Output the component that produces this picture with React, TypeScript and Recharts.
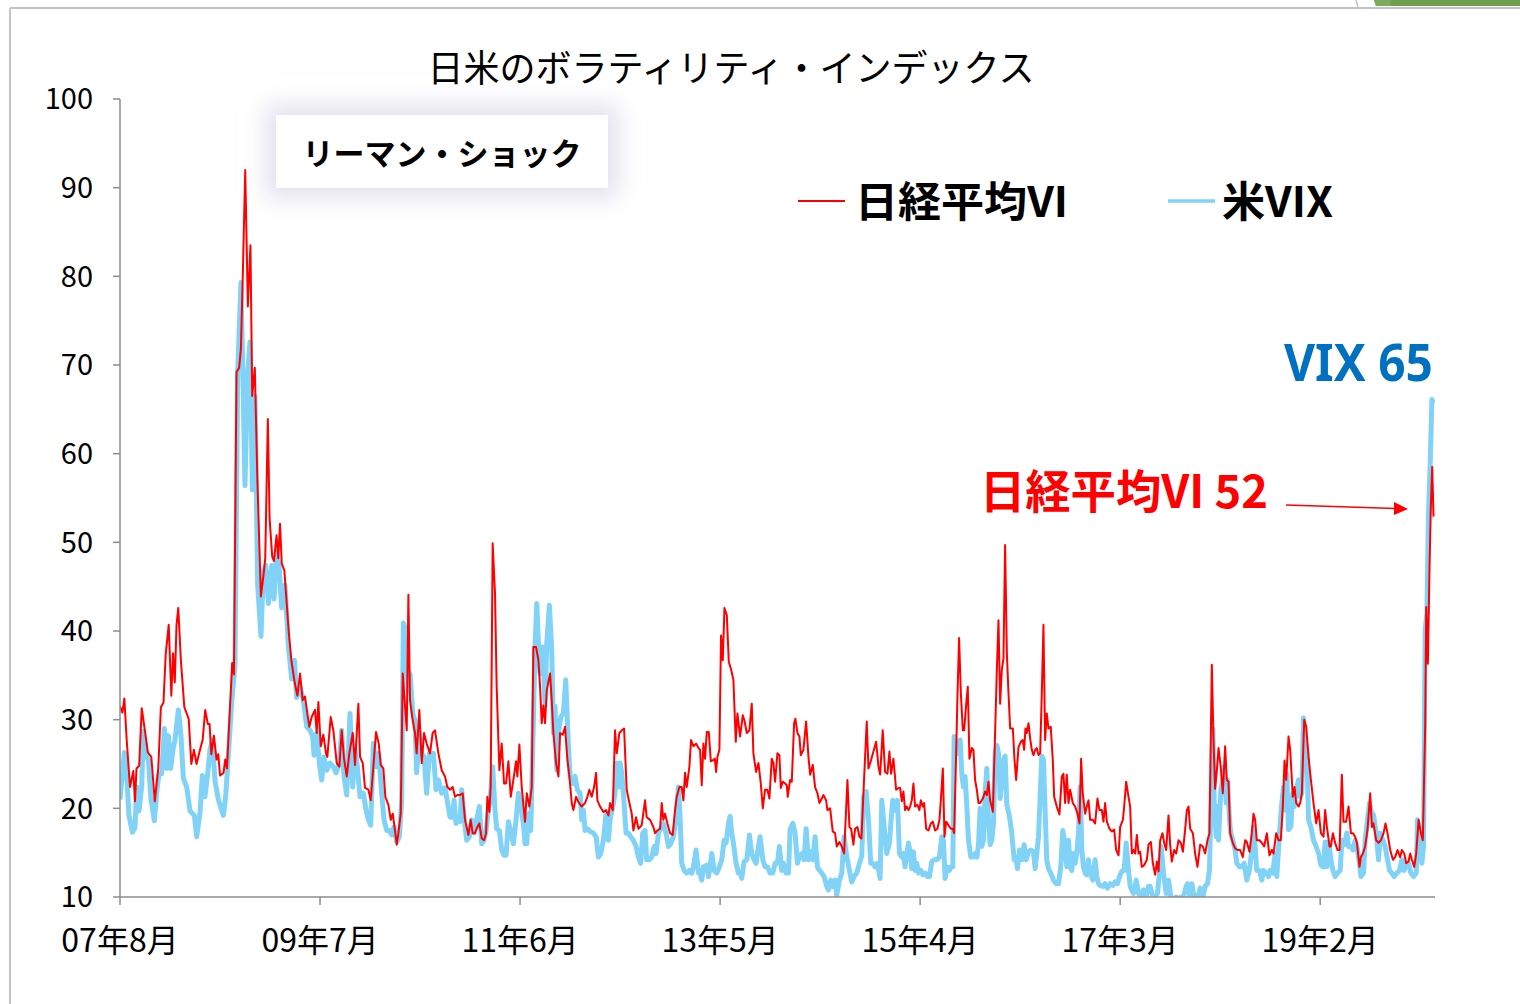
import { LineChart, Line, XAxis, YAxis } from "recharts";

const FONT = '"Noto Sans CJK JP", "Noto Sans", sans-serif';

const tickMonths = [0, 23, 46, 69, 92, 115, 138];
const tickLabels = ["07年8月", "09年7月", "11年6月", "13年5月", "15年4月", "17年3月", "19年2月"];
const yTicks = [10, 20, 30, 40, 50, 60, 70, 80, 90, 100];

// [months since 2007-08, index value]
const nikkeiVI: [number, number][] = [
  [0, 31.5], [0.27, 30.8], [0.5, 32.4], [0.77, 27.7], [1.15, 22.4], [1.53, 24.2], [1.72, 20.8], [1.9, 24.5], [2.2, 24.8], [2.5, 31.3],
  [2.9, 28.5], [3.2, 26.3], [3.6, 25.8], [4.0, 20.8], [4.4, 24.5], [4.7, 31.4], [5.0, 31.9], [5.25, 37.3], [5.6, 40.7], [5.9, 32.7],
  [6.1, 37.5], [6.3, 34.2], [6.5, 40.7], [6.7, 42.6], [7.0, 36.7], [7.4, 31.4], [7.9, 30.1], [8.2, 25.0], [8.5, 26.6], [8.8, 25.0],
  [9.2, 26.6], [9.5, 27.7], [9.8, 31.1], [10.1, 29.5], [10.3, 29.5], [10.5, 26.1], [10.8, 28.2], [11.1, 25.5], [11.3, 26.1], [11.5, 23.7],
  [11.9, 24.0], [12.1, 25.5], [12.3, 24.5], [12.5, 28.5], [12.9, 36.4], [13.1, 35.1], [13.4, 69.2], [13.7, 69.7], [13.9, 71.8], [14.1, 79.3],
  [14.4, 92.0], [14.7, 76.6], [15.0, 83.5], [15.2, 66.5], [15.5, 69.7], [15.8, 56.9], [16.2, 43.9], [16.5, 46.3], [16.7, 48.2], [17.0, 63.9],
  [17.2, 52.7], [17.5, 48.4], [17.7, 47.9], [18.0, 50.8], [18.2, 48.2], [18.4, 52.1], [18.6, 47.6], [18.9, 46.8], [19.4, 39.9], [19.7, 36.7],
  [20.1, 34.1], [20.4, 32.7],
  [20.7, 35.2], [21.0, 32.2], [21.27, 32.6], [21.54, 30.7], [21.77, 29.2], [22.04, 30.3], [22.42, 31.1], [22.62, 28.5], [22.81, 32.0], [23.08, 27.0],
  [23.38, 28.3], [23.69, 26.2], [23.84, 25.8], [24.23, 30.3], [24.53, 28.8], [24.92, 25.1], [25.22, 24.7], [25.49, 28.8], [25.76, 25.6], [26.07, 23.6],
  [26.37, 26.2], [26.76, 28.5], [27.02, 24.9], [27.41, 31.8], [27.6, 25.8], [27.91, 25.1], [28.17, 22.3], [28.56, 22.1], [28.83, 20.9], [29.13, 24.7],
  [29.44, 28.6], [29.75, 27.3], [29.98, 24.9], [30.28, 24.5], [30.51, 21.3], [30.86, 20.4], [31.13, 18.7], [31.36, 19.4], [31.62, 17.5], [31.82, 15.9],
  [32.01, 17.2], [32.28, 19.4], [32.51, 35.2], [32.77, 31.6], [32.97, 28.8], [33.16, 44.1], [33.35, 32.2], [33.66, 29.9], [33.92, 28.5], [34.11, 26.2],
  [34.42, 31.1], [34.69, 25.1], [34.96, 28.5], [35.26, 27.3], [35.65, 26.2], [35.95, 28.5], [36.22, 28.8], [36.61, 26.2], [36.99, 24.3], [37.37, 23.6],
  [37.64, 22.4], [37.95, 22.1], [38.25, 22.4], [38.52, 21.3], [38.79, 21.5], [39.1, 21.5], [39.4, 21.7], [39.67, 18.7], [40.06, 17.0], [40.32, 18.7],
  [40.55, 17.2], [40.82, 17.2], [41.09, 17.9], [41.32, 18.3], [41.59, 16.6], [41.86, 16.4], [42.09, 17.2], [42.24, 21.3], [42.47, 19.6], [42.62, 22.4],
  [42.85, 49.9], [43.12, 44.2], [43.31, 33.7], [43.62, 24.3],
  [43.89, 27.3], [44.16, 22.8], [44.39, 22.8], [44.66, 25.3], [44.93, 21.3], [45.23, 23.2], [45.54, 25.3], [45.69, 23.6], [45.92, 27.2], [46.19, 22.4],
  [46.57, 18.5], [46.77, 21.7], [47.07, 20.2], [47.34, 22.4], [47.53, 38.2], [47.84, 38.2], [48.11, 36.7], [48.3, 33.7], [48.49, 29.6], [48.68, 31.6],
  [48.87, 29.6], [49.07, 33.3], [49.45, 35.2], [49.64, 32.2], [49.83, 28.5], [50.14, 25.1], [50.41, 23.6], [50.6, 28.5], [50.91, 28.3], [51.17, 29.2],
  [51.44, 25.5], [51.67, 23.6], [51.94, 20.6], [52.13, 19.8], [52.44, 21.3], [52.71, 20.7], [53.09, 20.2], [53.47, 20.6], [53.74, 21.3], [53.97, 22.1],
  [54.24, 21.3], [54.51, 22.4], [54.74, 24.0], [54.89, 20.9], [55.2, 20.2], [55.58, 19.6], [55.89, 19.8], [56.16, 19.2], [56.35, 20.6], [56.66, 19.8],
  [56.92, 28.8], [57.12, 26.2], [57.42, 28.5], [57.69, 28.8], [57.96, 29.0], [58.26, 22.1], [58.57, 20.6], [58.84, 19.4], [59.03, 17.5], [59.34, 19.0],
  [59.61, 17.7], [59.99, 18.1], [60.37, 20.9], [60.56, 19.0], [60.95, 18.7], [61.33, 17.9], [61.52, 17.2], [61.79, 17.5], [62.1, 17.7], [62.29, 20.6],
  [62.48, 18.7], [62.67, 19.4], [62.94, 18.3], [63.25, 17.2], [63.55, 17.0], [63.82, 19.8], [64.01, 21.3], [64.32, 22.4], [64.59, 22.4], [64.78, 20.9],
  [64.97, 24.0], [65.16, 22.4], [65.47, 24.7], [65.66, 27.7], [65.93, 27.0], [66.24, 27.3], [66.51, 26.8],
  [66.7, 26.6], [66.89, 22.6], [67.08, 27.3], [67.27, 25.6], [67.47, 28.6], [67.7, 28.6], [67.93, 25.3], [68.16, 25.4], [68.39, 25.6], [68.54, 24.1],
  [68.69, 25.8], [68.92, 26.6], [69.11, 39.5], [69.31, 36.7], [69.5, 42.6], [69.77, 41.8], [70.0, 36.5], [70.23, 35.8], [70.53, 34.5], [70.8, 27.5],
  [70.99, 30.7], [71.3, 28.1], [71.61, 30.5], [71.8, 29.9], [72.07, 28.5], [72.37, 28.8], [72.64, 31.8], [72.83, 26.2], [73.14, 24.1], [73.41, 25.1],
  [73.68, 22.8], [73.91, 20.0], [74.17, 22.1], [74.44, 22.1], [74.67, 21.1], [74.94, 25.6], [75.13, 25.1], [75.32, 23.0], [75.59, 26.2], [75.82, 26.0],
  [75.98, 22.3], [76.21, 23.0], [76.47, 22.8], [76.67, 22.6], [76.78, 21.3], [77.05, 23.2], [77.24, 23.0], [77.51, 29.6], [77.66, 30.1], [77.89, 28.5],
  [78.12, 28.1], [78.28, 26.0], [78.58, 26.6], [78.89, 29.8], [79.16, 25.8], [79.35, 23.8], [79.66, 24.9], [79.92, 22.4], [80.19, 21.7], [80.42, 20.6],
  [80.69, 21.1], [80.88, 21.5], [81.19, 20.9], [81.34, 19.8], [81.65, 20.0], [81.95, 17.4], [82.22, 17.2], [82.41, 15.7], [82.72, 16.2], [82.99, 15.7],
  [83.26, 14.9], [83.64, 23.2], [83.87, 17.9], [84.06, 17.7], [84.33, 15.9], [84.52, 17.7], [84.79, 17.9], [85.02, 16.8], [85.25, 16.6], [85.48, 21.7],
  [85.86, 29.8], [86.06, 24.5], [86.32, 25.3], [86.63, 26.4], [86.94, 27.5], [87.21, 24.7], [87.4, 23.8], [87.7, 28.8], [87.97, 24.1], [88.24, 23.9],
  [88.47, 26.4], [88.66, 23.9], [88.93, 25.6], [89.24, 22.1], [89.51, 22.3],
  [89.7, 22.3], [89.89, 20.8], [90.08, 21.9], [90.27, 19.8], [90.47, 20.2], [90.66, 19.8], [90.85, 20.2], [91.04, 20.9], [91.23, 22.8], [91.42, 20.2],
  [91.69, 20.4], [91.92, 19.8], [92.08, 20.9], [92.31, 20.2], [92.46, 20.6], [92.69, 17.7], [92.96, 17.5], [93.23, 18.3], [93.46, 18.5], [93.72, 17.5],
  [93.99, 17.7], [94.22, 18.7], [94.38, 20.9], [94.61, 24.5], [94.8, 16.8], [94.99, 18.5], [95.26, 18.1], [95.53, 17.7], [95.76, 17.7], [95.91, 17.2],
  [96.14, 26.2], [96.29, 32.6], [96.48, 39.2], [96.68, 33.0], [96.91, 28.8], [97.06, 28.8], [97.29, 31.7], [97.48, 33.7], [97.67, 25.6], [97.94, 26.8],
  [98.13, 26.6], [98.32, 23.2], [98.52, 22.1], [98.71, 20.6], [98.9, 20.6], [99.21, 21.1], [99.47, 21.9], [99.67, 21.5], [99.86, 23.0], [100.05, 20.9],
  [100.36, 19.6], [100.62, 28.5], [100.82, 35.6], [101.01, 41.2], [101.2, 31.8], [101.39, 35.6], [101.58, 36.9], [101.77, 49.7], [101.97, 37.5], [102.16, 33.0],
  [102.35, 29.0], [102.66, 29.0], [102.85, 25.5], [103.04, 23.2], [103.31, 26.9], [103.58, 27.5], [103.8, 27.7], [103.96, 26.6], [104.11, 29.0], [104.26, 28.5],
  [104.46, 29.6], [104.65, 27.9], [104.84, 26.6], [105.03, 26.0], [105.23, 26.6], [105.41, 26.8], [105.61, 26.0], [105.8, 26.2], [105.99, 33.0], [106.18, 40.7],
  [106.37, 27.7], [106.56, 30.7], [106.76, 29.0], [107.02, 29.2], [107.25, 25.5], [107.41, 21.3], [107.71, 20.2], [108.02, 19.3], [108.29, 23.6], [108.48, 23.9],
  [108.67, 20.6], [108.86, 23.8], [109.06, 20.6], [109.25, 22.1], [109.55, 20.6], [109.82, 20.2], [110.09, 19.4], [110.32, 18.3], [110.51, 25.6], [110.7, 21.7],
  [110.97, 19.4], [111.16, 20.2], [111.36, 20.9], [111.55, 18.7], [111.85, 18.7], [112.12, 18.3], [112.39, 21.1], [112.62, 19.8],
  [112.89, 19.8], [113.08, 18.5], [113.27, 20.6], [113.47, 18.5], [113.77, 17.7], [114.04, 17.4], [114.31, 17.6], [114.54, 15.3], [114.81, 14.7], [115.0, 17.9],
  [115.31, 18.7], [115.46, 20.2], [115.69, 23.0], [115.96, 21.3], [116.15, 20.2], [116.34, 14.9], [116.53, 15.3], [116.72, 14.9], [116.92, 17.0], [117.11, 14.9],
  [117.3, 15.1], [117.49, 13.4], [117.76, 13.6], [118.07, 14.2], [118.26, 15.9], [118.53, 16.2], [118.76, 13.8], [119.02, 12.5], [119.22, 14.0], [119.41, 12.9],
  [119.6, 16.4], [119.87, 17.2], [120.06, 16.1], [120.29, 15.3], [120.56, 19.2], [120.75, 15.9], [120.94, 14.0], [121.21, 15.3], [121.44, 14.9], [121.71, 16.4],
  [121.98, 16.1], [122.21, 15.1], [122.47, 17.6], [122.67, 19.8], [122.86, 20.2], [123.05, 17.7], [123.36, 17.2], [123.62, 14.9], [123.89, 13.4], [124.2, 15.9],
  [124.5, 15.7], [124.77, 14.9], [125.04, 16.4], [125.27, 17.2], [125.54, 36.2], [125.73, 27.7], [125.92, 22.2], [126.12, 24.3], [126.31, 26.8], [126.58, 24.5],
  [126.8, 21.7], [127.07, 27.0], [127.26, 23.2], [127.46, 23.0], [127.65, 17.2], [127.95, 16.1], [128.22, 15.5], [128.49, 15.3], [128.8, 15.3], [129.1, 14.5],
  [129.37, 16.4], [129.56, 16.2], [129.87, 15.1], [130.14, 17.2], [130.33, 19.4], [130.52, 18.7], [130.71, 16.4], [131.02, 16.4], [131.29, 16.1], [131.56, 15.7],
  [131.86, 17.2], [132.17, 14.7], [132.44, 15.3], [132.63, 14.9], [132.94, 17.2], [133.21, 16.4], [133.47, 16.4], [133.7, 20.2], [133.9, 25.4], [134.09, 23.2],
  [134.36, 28.1], [134.55, 26.6], [134.85, 21.3], [135.05, 22.4], [135.24, 20.6], [135.51, 20.2],
  [135.7, 20.6], [135.89, 21.7], [136.16, 30.0], [136.39, 29.2], [136.66, 25.8], [136.93, 23.2], [137.23, 20.6], [137.54, 18.3], [137.81, 19.8], [138.08, 17.2],
  [138.38, 16.8], [138.57, 19.8], [138.77, 17.9], [139.07, 15.7], [139.23, 15.7], [139.46, 17.2], [139.72, 16.1], [139.99, 15.3], [140.22, 15.3], [140.49, 23.8],
  [140.68, 18.5], [140.99, 18.5], [141.26, 20.2], [141.53, 17.2], [141.76, 17.2], [142.02, 16.8], [142.22, 16.1], [142.52, 13.4], [142.68, 14.5], [142.91, 14.9],
  [143.17, 15.7], [143.44, 17.6], [143.75, 21.7], [143.94, 17.9], [144.13, 18.3], [144.44, 16.4], [144.71, 16.1], [144.98, 16.4], [145.28, 17.2], [145.51, 18.3],
  [145.74, 17.2], [146.05, 15.3], [146.36, 14.2], [146.62, 14.5], [146.89, 15.3], [147.2, 14.5], [147.39, 15.3], [147.66, 14.9], [147.89, 13.8], [148.16, 14.0],
  [148.35, 14.9], [148.54, 14.2], [148.81, 13.4], [149.04, 14.9], [149.31, 18.7], [149.58, 17.2], [149.8, 16.4], [150.07, 29.2], [150.19, 42.7], [150.38, 36.3],
  [150.57, 47.2], [150.72, 54.0], [150.88, 58.5], [151.03, 52.9],
];

const usVIX: [number, number][] = [
  [0, 21.0], [0.5, 26.3], [0.77, 23.9], [1.03, 19.2], [1.42, 17.3], [1.72, 17.8], [1.92, 22.4], [2.18, 19.7], [2.49, 22.4], [2.68, 28.7],
  [3.07, 25.8], [3.26, 25.5], [3.56, 21.0], [3.95, 18.6], [4.22, 21.8], [4.48, 23.9], [4.79, 23.9], [5.1, 29.0], [5.37, 24.5], [5.56, 28.2],
  [5.83, 24.5], [6.13, 26.9], [6.32, 27.7], [6.71, 31.1], [7.01, 28.2], [7.28, 23.4], [7.67, 22.4], [8.05, 19.7], [8.55, 19.2], [8.82, 16.8],
  [9.2, 19.5], [9.47, 23.7], [9.77, 21.3], [10.08, 23.9], [10.35, 26.6], [10.62, 27.7], [10.92, 23.1], [11.31, 21.0], [11.88, 19.2], [12.15, 21.3],
  [12.46, 26.1], [12.84, 31.9], [13.22, 36.2], [13.53, 69.2], [13.91, 79.3], [14.1, 70.2], [14.37, 56.4], [14.68, 69.2], [14.95, 72.6], [15.22, 55.9],
  [15.52, 66.5], [15.83, 45.2], [16.21, 39.4], [16.48, 46.8], [16.75, 47.4], [17.06, 43.1], [17.44, 47.4], [17.71, 43.6], [18.01, 48.9], [18.28, 47.4],
  [18.59, 42.6], [18.97, 45.2], [19.36, 38.3], [19.74, 34.6], [20.05, 36.7], [20.31, 32.5],
  [20.7, 33.7], [21.08, 32.2], [21.47, 29.2], [21.85, 28.8], [22.16, 28.1], [22.31, 26.0], [22.62, 28.5], [22.92, 25.1], [23.19, 23.2], [23.46, 25.8],
  [23.77, 24.3], [24.15, 25.1], [24.53, 24.7], [24.84, 24.0], [25.22, 25.1], [25.49, 28.8], [25.76, 23.6], [26.07, 21.5], [26.45, 30.7], [26.76, 22.4],
  [27.02, 26.6], [27.29, 24.7], [27.6, 21.3], [27.98, 21.7], [28.29, 19.8], [28.56, 18.7], [28.83, 18.1], [29.13, 27.3], [29.44, 24.7], [29.75, 26.2],
  [30.09, 21.7], [30.36, 18.7], [30.67, 17.5], [30.97, 17.5], [31.24, 17.0], [31.51, 17.9], [31.82, 16.2], [32.12, 16.8], [32.39, 20.9], [32.58, 40.9],
  [32.89, 40.1], [33.16, 33.3], [33.35, 35.2], [33.66, 30.7], [33.92, 29.9], [34.11, 24.0], [34.42, 28.5], [34.69, 26.2], [34.96, 25.8], [35.26, 21.7],
  [35.57, 26.2], [35.84, 25.5], [36.03, 26.2], [36.34, 22.1], [36.61, 23.2], [36.99, 21.7], [37.37, 22.3], [37.64, 20.8], [37.95, 19.0], [38.25, 19.0],
  [38.41, 20.9], [38.64, 18.3], [38.91, 19.0], [39.1, 18.5], [39.29, 22.1], [39.56, 19.0], [39.86, 16.4], [40.17, 16.8], [40.44, 18.7], [40.71, 17.2],
  [41.01, 18.7], [41.32, 20.2], [41.59, 16.0], [41.86, 16.4], [42.09, 17.5], [42.36, 19.8], [42.55, 20.9], [42.85, 24.7], [43.12, 19.8], [43.31, 17.7],
  [43.62, 17.5],
  [43.89, 15.3], [44.16, 14.7], [44.39, 14.7], [44.66, 18.5], [44.93, 17.4], [45.23, 16.0], [45.54, 18.7], [45.81, 21.7], [46.08, 20.2], [46.38, 18.3],
  [46.57, 16.0], [46.77, 16.0], [46.96, 19.4], [47.23, 17.5], [47.53, 29.9], [47.72, 38.2], [47.92, 43.1], [48.11, 38.6], [48.3, 35.2], [48.61, 38.2],
  [48.87, 31.5], [49.07, 38.6], [49.37, 42.9], [49.64, 37.9], [49.83, 28.5], [50.02, 31.5], [50.22, 24.3], [50.41, 28.5], [50.68, 30.3], [50.98, 30.7],
  [51.25, 34.5], [51.56, 27.0], [51.75, 23.6], [52.06, 22.8], [52.32, 23.6], [52.59, 22.1], [52.9, 21.7], [53.09, 18.7], [53.28, 19.8], [53.47, 17.5],
  [53.74, 17.7], [54.05, 17.4], [54.43, 17.2], [54.74, 16.8], [55.01, 14.5], [55.28, 14.9], [55.58, 16.4], [55.89, 19.4], [56.16, 16.4], [56.35, 18.7],
  [56.66, 20.2], [56.92, 21.7], [57.12, 25.1], [57.31, 22.4], [57.5, 25.1], [57.69, 24.0], [57.88, 21.7], [58.19, 17.2], [58.46, 17.2], [58.72, 16.8],
  [59.03, 16.4], [59.34, 15.7], [59.61, 14.5], [59.87, 13.8], [60.1, 17.2], [60.37, 17.5], [60.56, 14.2], [60.87, 14.2], [61.14, 14.5], [61.41, 15.7],
  [61.64, 14.9], [61.91, 17.2], [62.17, 17.7], [62.48, 18.3], [62.79, 17.2], [63.06, 15.7], [63.32, 16.0], [63.63, 16.8], [63.94, 18.7], [64.21, 22.4],
  [64.4, 19.0], [64.59, 13.8], [64.86, 13.0], [65.16, 12.7], [65.47, 13.0], [65.74, 12.7], [65.93, 13.4], [66.24, 15.3], [66.51, 12.7],
  [66.7, 12.7], [66.89, 11.9], [67.08, 13.4], [67.27, 13.0], [67.47, 13.6], [67.66, 12.3], [67.85, 13.4], [68.04, 14.9], [68.31, 13.0], [68.62, 12.7],
  [68.92, 13.4], [69.19, 14.2], [69.46, 16.4], [69.69, 16.1], [69.96, 18.3], [70.15, 19.1], [70.34, 17.2], [70.53, 16.1], [70.84, 13.8], [71.11, 12.7],
  [71.3, 12.7], [71.49, 12.1], [71.76, 14.0], [72.07, 14.2], [72.37, 17.0], [72.64, 14.9], [72.91, 14.2], [73.14, 13.8], [73.41, 15.7], [73.6, 16.8],
  [73.91, 14.2], [74.17, 13.4], [74.44, 13.4], [74.75, 12.7], [75.06, 12.7], [75.32, 13.8], [75.59, 13.8], [75.82, 15.7], [76.09, 13.0], [76.28, 13.8],
  [76.59, 12.7], [76.86, 12.7], [77.05, 17.6], [77.36, 18.3], [77.62, 17.2], [77.89, 13.8], [78.12, 14.6], [78.39, 14.9], [78.66, 14.2], [78.89, 17.7],
  [79.16, 14.2], [79.43, 15.1], [79.66, 14.2], [79.92, 16.8], [80.19, 13.4], [80.42, 13.0], [80.69, 12.7], [80.96, 12.3], [81.26, 11.2], [81.46, 10.8],
  [81.72, 11.9], [81.95, 11.2], [82.22, 11.9], [82.41, 10.2], [82.72, 11.9], [82.99, 12.7], [83.26, 16.8], [83.56, 14.6], [83.87, 13.0], [84.14, 11.7],
  [84.41, 12.3], [84.71, 12.7], [85.02, 13.8], [85.29, 14.6], [85.48, 21.3], [85.79, 21.9], [86.06, 18.7], [86.32, 13.8], [86.55, 13.8], [86.82, 13.4],
  [87.09, 13.8], [87.4, 12.1], [87.59, 20.9], [87.86, 17.9], [88.16, 14.9], [88.47, 16.1], [88.66, 18.7], [88.85, 20.9], [89.12, 19.8], [89.39, 20.9],
  [89.62, 14.9],
  [89.89, 14.5], [90.08, 14.9], [90.27, 13.4], [90.47, 14.9], [90.66, 16.1], [90.85, 14.9], [91.04, 13.2], [91.23, 15.1], [91.42, 13.0], [91.62, 13.8],
  [91.81, 12.7], [92.08, 13.0], [92.31, 12.5], [92.57, 12.7], [92.84, 12.3], [93.07, 12.3], [93.34, 14.0], [93.61, 14.2], [93.92, 14.2], [94.22, 14.5],
  [94.49, 16.8], [94.68, 16.4], [94.87, 12.1], [95.07, 13.4], [95.37, 13.0], [95.53, 13.4], [95.76, 13.4], [95.91, 28.1], [96.14, 27.3], [96.41, 26.2],
  [96.6, 27.7], [96.79, 23.9], [96.98, 22.4], [97.17, 23.6], [97.37, 20.2], [97.56, 16.4], [97.83, 14.5], [98.06, 14.5], [98.32, 14.9], [98.52, 14.5],
  [98.71, 15.9], [98.9, 20.0], [99.09, 15.7], [99.28, 16.4], [99.47, 21.7], [99.67, 24.5], [99.86, 18.7], [100.05, 15.9], [100.24, 16.4], [100.43, 18.3],
  [100.62, 26.2], [100.82, 27.1], [101.01, 26.2], [101.2, 21.1], [101.39, 22.8], [101.58, 25.5], [101.77, 25.9], [101.97, 20.4], [102.27, 19.1], [102.54, 17.2],
  [102.81, 14.2], [103.04, 14.2], [103.19, 13.2], [103.42, 15.3], [103.69, 14.2], [103.96, 15.9], [104.19, 14.2], [104.46, 15.1], [104.72, 15.3], [105.03, 15.1],
  [105.23, 13.2], [105.41, 14.9], [105.61, 16.8], [105.8, 21.3], [105.99, 25.9], [106.18, 25.5], [106.37, 19.8], [106.56, 14.2], [106.76, 13.2], [107.02, 12.7],
  [107.33, 11.9], [107.64, 11.5], [107.91, 11.5], [108.17, 13.4], [108.4, 17.5], [108.63, 16.1], [108.86, 13.4], [109.06, 16.4], [109.25, 13.4], [109.44, 13.0],
  [109.63, 14.9], [109.82, 13.8], [110.01, 14.9], [110.21, 17.2], [110.4, 22.4], [110.59, 15.3], [110.78, 13.4], [110.97, 12.7], [111.16, 12.5], [111.36, 14.2],
  [111.55, 12.7], [111.85, 11.9], [112.12, 14.2], [112.31, 12.3], [112.51, 11.5],
  [112.7, 11.3], [113.01, 11.2], [113.27, 11.5], [113.54, 11.0], [113.85, 11.5], [114.16, 11.3], [114.42, 11.7], [114.69, 11.5], [114.92, 12.3], [115.19, 12.9],
  [115.46, 13.0], [115.69, 16.1], [115.96, 13.0], [116.15, 11.2], [116.34, 10.8], [116.53, 10.4], [116.84, 11.9], [117.11, 10.4], [117.38, 10.0], [117.68, 10.8],
  [117.99, 10.0], [118.26, 11.2], [118.45, 11.2], [118.76, 10.0], [119.02, 10.0], [119.29, 10.4], [119.52, 12.7], [119.71, 15.7], [119.98, 12.7], [120.29, 10.4],
  [120.56, 11.9], [120.83, 10.0], [121.13, 9.8], [121.44, 10.0], [121.71, 9.8], [121.98, 10.0], [122.28, 10.0], [122.59, 11.2], [122.74, 11.5], [122.97, 10.2],
  [123.24, 11.5], [123.43, 10.4], [123.74, 10.0], [124.01, 10.2], [124.2, 11.0], [124.5, 10.0], [124.77, 11.2], [125.04, 11.5], [125.27, 13.0], [125.43, 20.2],
  [125.66, 29.0], [125.81, 20.9], [126.04, 16.8], [126.19, 20.2], [126.31, 16.4], [126.58, 22.1], [126.8, 23.2], [126.96, 24.7], [127.19, 20.6], [127.34, 23.2],
  [127.57, 18.7], [127.72, 17.2], [127.95, 16.4], [128.22, 15.3], [128.41, 13.8], [128.72, 13.4], [128.99, 13.4], [129.26, 13.8], [129.56, 11.9], [129.87, 13.0],
  [130.14, 15.3], [130.33, 17.9], [130.52, 15.7], [130.71, 13.0], [131.02, 13.0], [131.29, 11.9], [131.48, 13.0], [131.79, 12.7], [132.06, 12.3], [132.25, 13.0],
  [132.55, 12.7], [132.82, 14.9], [133.01, 12.3], [133.32, 17.2], [133.59, 20.6], [133.78, 22.4], [133.97, 19.8], [134.16, 23.9], [134.36, 17.6], [134.62, 17.9],
  [134.85, 21.7], [135.01, 20.2], [135.24, 22.1], [135.51, 23.2],
  [135.7, 21.3], [135.89, 21.7], [136.08, 30.2], [136.27, 27.7], [136.47, 26.2], [136.66, 18.7], [136.93, 17.9], [137.23, 16.4], [137.54, 15.7], [137.81, 14.9],
  [138.08, 13.6], [138.38, 13.4], [138.57, 16.2], [138.77, 13.4], [138.96, 16.2], [139.23, 14.2], [139.46, 13.0], [139.72, 12.3], [139.99, 12.7], [140.3, 13.0],
  [140.49, 16.4], [140.76, 15.9], [141.07, 17.2], [141.26, 15.7], [141.53, 15.7], [141.76, 15.3], [142.02, 16.4], [142.22, 15.7], [142.52, 13.8], [142.68, 12.3],
  [142.98, 12.7], [143.17, 16.4], [143.44, 18.7], [143.67, 20.6], [143.94, 19.4], [144.13, 19.3], [144.44, 17.2], [144.71, 14.2], [144.9, 17.2], [145.21, 16.4],
  [145.47, 15.7], [145.74, 14.2], [145.97, 13.0], [146.24, 12.7], [146.51, 12.3], [146.82, 12.7], [147.12, 13.0], [147.39, 14.2], [147.66, 13.0], [147.89, 13.8],
  [148.16, 13.8], [148.42, 12.7], [148.73, 12.3], [149.04, 12.7], [149.19, 18.7], [149.42, 17.6], [149.69, 13.8], [149.88, 15.7], [150.07, 40.1], [150.27, 42.0],
  [150.46, 53.3], [150.65, 58.9], [150.84, 66.1], [151.03, 65.7],
];

const toRows = (pts: [number, number][]) => pts.map(([m, v]) => ({ m, v }));
const nikkeiRows = toRows(nikkeiVI);
const vixRows = toRows(usVIX);

const axisGray = "#8c8c8c";
const vixBlue = "#80d3f6";

function Overlay() {
  return (
    <svg width={1520} height={1004} style={{ position: "absolute", left: 0, top: 0, pointerEvents: "none" }} fontFamily={FONT}>
      {/* frame */}
      <line x1={10} y1={8} x2={1520} y2={8} stroke="#c4c4c4" strokeWidth={2} />
      <line x1={10} y1={8} x2={10} y2={1004} stroke="#c4c4c4" strokeWidth={2} />
      <line x1={1356} y1={0} x2={1358} y2={7} stroke="#c4c4c4" strokeWidth={1.5} />
      <polygon points="1374,0 1520,0 1520,6 1376,6" fill="#6f9e4f" />
      <polygon points="1374,0 1390,0 1391,6 1376,6" fill="#7dab5d" />

      <text x={731} y={66} textAnchor="middle" dominantBaseline="central" fontSize={37} textLength={607} lengthAdjust="spacingAndGlyphs" fill="#000">
        日米のボラティリティ・インデックス
      </text>

      {/* legend */}
      <line x1={798} y1={201} x2={845} y2={201} stroke="#ff0000" strokeWidth={2} />
      <text x={855} y={198} dominantBaseline="central" fontSize={42} fontWeight={700} textLength={213} lengthAdjust="spacingAndGlyphs" fill="#000">
        日経平均VI
      </text>
      <line x1={1168} y1={201} x2={1215} y2={201} stroke={vixBlue} strokeWidth={3.5} />
      <text x={1222} y={198} dominantBaseline="central" fontSize={42} fontWeight={700} textLength={111} lengthAdjust="spacingAndGlyphs" fill="#000">
        米VIX
      </text>

      {/* annotations */}
      <text x={1284} y={360} dominantBaseline="central" fontSize={52} fontWeight={700} textLength={149} lengthAdjust="spacingAndGlyphs" fill="#0070c0" fontFamily='"Noto Sans", sans-serif'>
        VIX 65
      </text>
      <text x={980} y={488} dominantBaseline="central" fontSize={46} fontWeight={700} textLength={288} lengthAdjust="spacingAndGlyphs" fill="#ff0000">
        日経平均VI 52
      </text>
      <line x1={1286} y1={505} x2={1396} y2={508.5} stroke="#ff0000" strokeWidth={1.5} />
      <polygon points="1394,502 1408,509 1394,515" fill="#ff0000" />
    </svg>
  );
}

export default function App() {
  return (
    <div style={{ position: "absolute", left: 0, top: 0, width: 1520, height: 1004, background: "#fff", fontFamily: FONT }}>
      <LineChart width={1520} height={1004} margin={{ top: 99, right: 85, bottom: 47, left: 20 }}>
        <XAxis
          dataKey="m"
          type="number"
          domain={[0, 151.2]}
          allowDataOverflow
          ticks={tickMonths}
          tickFormatter={(m: number) => tickLabels[tickMonths.indexOf(m)] ?? ""}
          interval={0}
          height={60}
          stroke={axisGray}
          strokeWidth={1.5}
          tickSize={8}
          tickMargin={24}
          tick={{ fill: "#000", fontSize: 32, fontFamily: FONT }}
        />
        <YAxis
          type="number"
          domain={[10, 100]}
          allowDataOverflow
          ticks={yTicks}
          interval={0}
          width={100}
          stroke={axisGray}
          strokeWidth={1.5}
          tickSize={7}
          tickMargin={20}
          tick={{ fill: "#000", fontSize: 29, fontFamily: FONT }}
        />
        <Line data={vixRows} dataKey="v" type="linear" stroke={vixBlue} strokeWidth={5} dot={false} activeDot={false} isAnimationActive={false} strokeLinejoin="round" />
        <Line data={nikkeiRows} dataKey="v" type="linear" stroke="#ff0000" strokeWidth={2} dot={false} activeDot={false} isAnimationActive={false} strokeLinejoin="round" />
      </LineChart>
      <div
        style={{
          position: "absolute", left: 276, top: 115, width: 332, height: 73, background: "#fff",
          boxShadow: "0 0 22px 10px rgba(208,203,225,0.6)",
          display: "flex", alignItems: "center", justifyContent: "center",
          fontSize: 31, fontWeight: 700, color: "#000", letterSpacing: 0,
        }}
      >
        リーマン・ショック
      </div>
      <Overlay />
    </div>
  );
}
